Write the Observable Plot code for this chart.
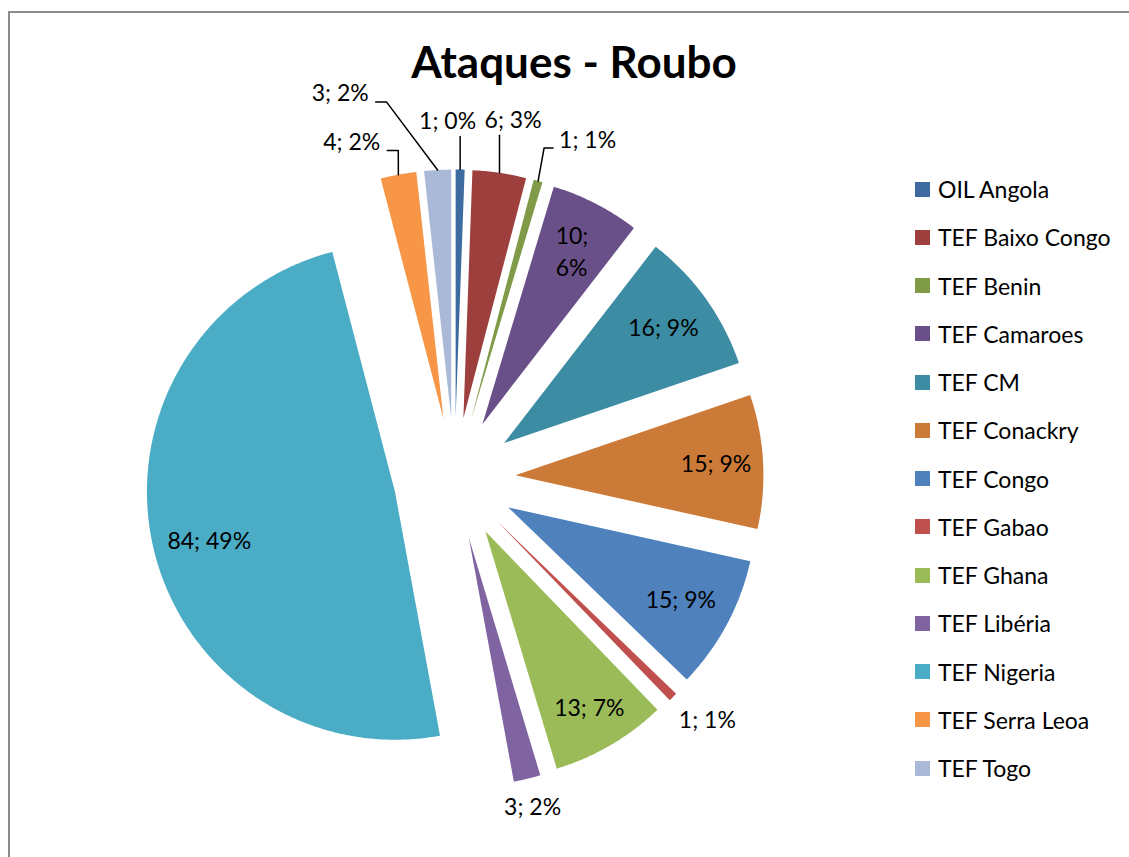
<!DOCTYPE html>
<html>
<head>
<meta charset="utf-8">
<script src="https://cdn.jsdelivr.net/npm/d3@7"></script>
<script src="https://cdn.jsdelivr.net/npm/@observablehq/plot@0.6"></script>
<style>
  html, body { margin: 0; padding: 0; background: #fff; }
  #wrap { position: relative; width: 1129px; height: 857px; overflow: hidden; font-family: Lato, "Open Sans", sans-serif; color: #000; }
  #frame { position: absolute; left: 8px; top: 11px; width: 1300px; height: 1000px; border-left: 2px solid #8c8c8c; border-top: 2px solid #8c8c8c; }
  #chart { position: absolute; left: 0; top: 0; }
  #title { position: absolute; left: 374px; width: 400px; top: 37px; text-align: center; font-weight: bold; font-size: 44px; line-height: 48px; }
  #legend { position: absolute; left: 915px; top: 165px; }
  .item { display: flex; align-items: center; height: 48.25px; font-size: 23px; white-space: nowrap; }
  .sw { width: 15px; height: 15px; margin-right: 8px; flex: none; }
</style>
</head>
<body>
<div id="wrap">
  <div id="frame"></div>
  <div id="chart"></div>
  <div id="title">Ataques - Roubo</div>
  <div id="legend"></div>
</div>
<script>
// ---- data ----
const categories = ["OIL Angola", "TEF Baixo Congo", "TEF Benin", "TEF Camaroes", "TEF CM", "TEF Conackry", "TEF Congo", "TEF Gabao", "TEF Ghana", "TEF Libéria", "TEF Nigeria", "TEF Serra Leoa", "TEF Togo"];
const values = [1, 6, 1, 10, 16, 15, 15, 1, 13, 3, 84, 4, 3];
const percents = [0, 3, 1, 6, 9, 9, 9, 1, 7, 2, 49, 2, 2];
const colors = ["#3d6ba0", "#9c3f3d", "#7f9b48", "#6a5088", "#3c8ca3", "#cc7a38", "#4f81bd", "#c0504d", "#9bbb59", "#8064a2", "#4bacc6", "#f79646", "#aab9d7"];

// ---- layout (label placement per slice) ----
const labelLayout = [
  {r: 1.194, shift: -2.6, leader: "up"},
  {r: 1.218, shift: 1.1, leader: "up"},
  {r: 1.218, shift: 7.0, leader: "left"},
  {r: 0.79, wrap: true},
  {r: 0.79},
  {r: 0.81},
  {r: 0.79},
  {r: 1.166, shift: -1.5},
  {r: 0.83},
  {r: 1.117, shift: 0.3},
  {r: 0.775, shift: -2.4},
  {r: 1.173, shift: -7.9, leader: "right"},
  {r: 1.379, shift: -15.8, leader: "right"}
];

const W = 1129, H = 857;
const cx = 454, cy = 478, R = 248, explode = 61;
const fontSize = 23;
const font = `${fontSize}px Lato`;

const ctx = document.createElement("canvas").getContext("2d");
ctx.font = font;

const total = d3.sum(values);
const rad = a => a * Math.PI / 180;
const dir = a => [Math.sin(rad(a)), -Math.cos(rad(a))];

// slices
const slicePts = [];
const labels = [];
const wrapLabels = [];
const leaders = [];
let acc = 0;
values.forEach((v, i) => {
  const a0 = acc / total * 360;
  acc += v;
  const a1 = acc / total * 360;
  const mid = (a0 + a1) / 2;
  const [dx, dy] = dir(mid);
  const ax = cx + explode * dx, ay = cy + explode * dy;
  const name = categories[i];
  slicePts.push({name, x: ax, y: ay, color: colors[i]});
  const n = Math.max(2, Math.ceil((a1 - a0) / 0.5));
  for (let k = 0; k <= n; k++) {
    const a = a0 + (a1 - a0) * k / n;
    const [ux, uy] = dir(a);
    slicePts.push({name, x: ax + R * ux, y: ay + R * uy, color: colors[i]});
  }
  // label
  const L = labelLayout[i];
  const la = mid + (L.shift || 0);
  const [lx0, ly0] = dir(la);
  const lx = ax + L.r * R * lx0, ly = ay + L.r * R * ly0;
  if (L.wrap) {
    const lines = [`${v};`, `${percents[i]}%`];
    const w = d3.max(lines, s => ctx.measureText(s).width);
    wrapLabels.push({x: lx - w / 2, y: ly, text: lines.join("\n")});
  } else {
    labels.push({x: lx, y: ly, text: `${v}; ${percents[i]}%`});
  }
  if (L.leader) {
    const text = `${v}; ${percents[i]}%`;
    const px = ax + R * dx, py = ay + R * dy;
    const w = ctx.measureText(text).width;
    let pts;
    if (L.leader === "up") pts = [[px, py], [px, ly + 15]];
    else if (L.leader === "left") { const e = lx - w / 2; pts = [[px, py], [e - 15, ly + 7], [e - 6, ly + 7]]; }
    else { const e = lx + w / 2; pts = [[px, py], [e + 18, ly + 8], [e + 7, ly + 8]]; }
    pts.forEach(([x, y]) => leaders.push({name, x, y}));
  }
});

const chart = Plot.plot({
  width: W, height: H, margin: 0,
  x: {domain: [0, W], range: [0, W], axis: null},
  y: {domain: [0, H], range: [0, H], axis: null},
  color: {type: "identity"},
  style: {fontFamily: "Lato, 'Open Sans', sans-serif", background: "transparent"},
  marks: [
    Plot.line(slicePts, {x: "x", y: "y", z: "name", fill: "color", stroke: null, curve: "linear-closed"}),
    Plot.line(leaders, {x: "x", y: "y", z: "name", stroke: "#000", strokeWidth: 1.5}),
    Plot.text(labels, {x: "x", y: "y", text: "text", fontSize, fill: "#000", textAnchor: "middle"}),
    Plot.text(wrapLabels, {x: "x", y: "y", text: "text", fontSize, fill: "#000", lineHeight: 1.39, textAnchor: "start"})
  ]
});
document.getElementById("chart").appendChild(chart);

// legend
const legend = d3.select("#legend");
categories.forEach((c, i) => {
  const it = legend.append("div").attr("class", "item");
  it.append("div").attr("class", "sw").style("background", colors[i]);
  it.append("span").text(c);
});
</script>
</body>
</html>
